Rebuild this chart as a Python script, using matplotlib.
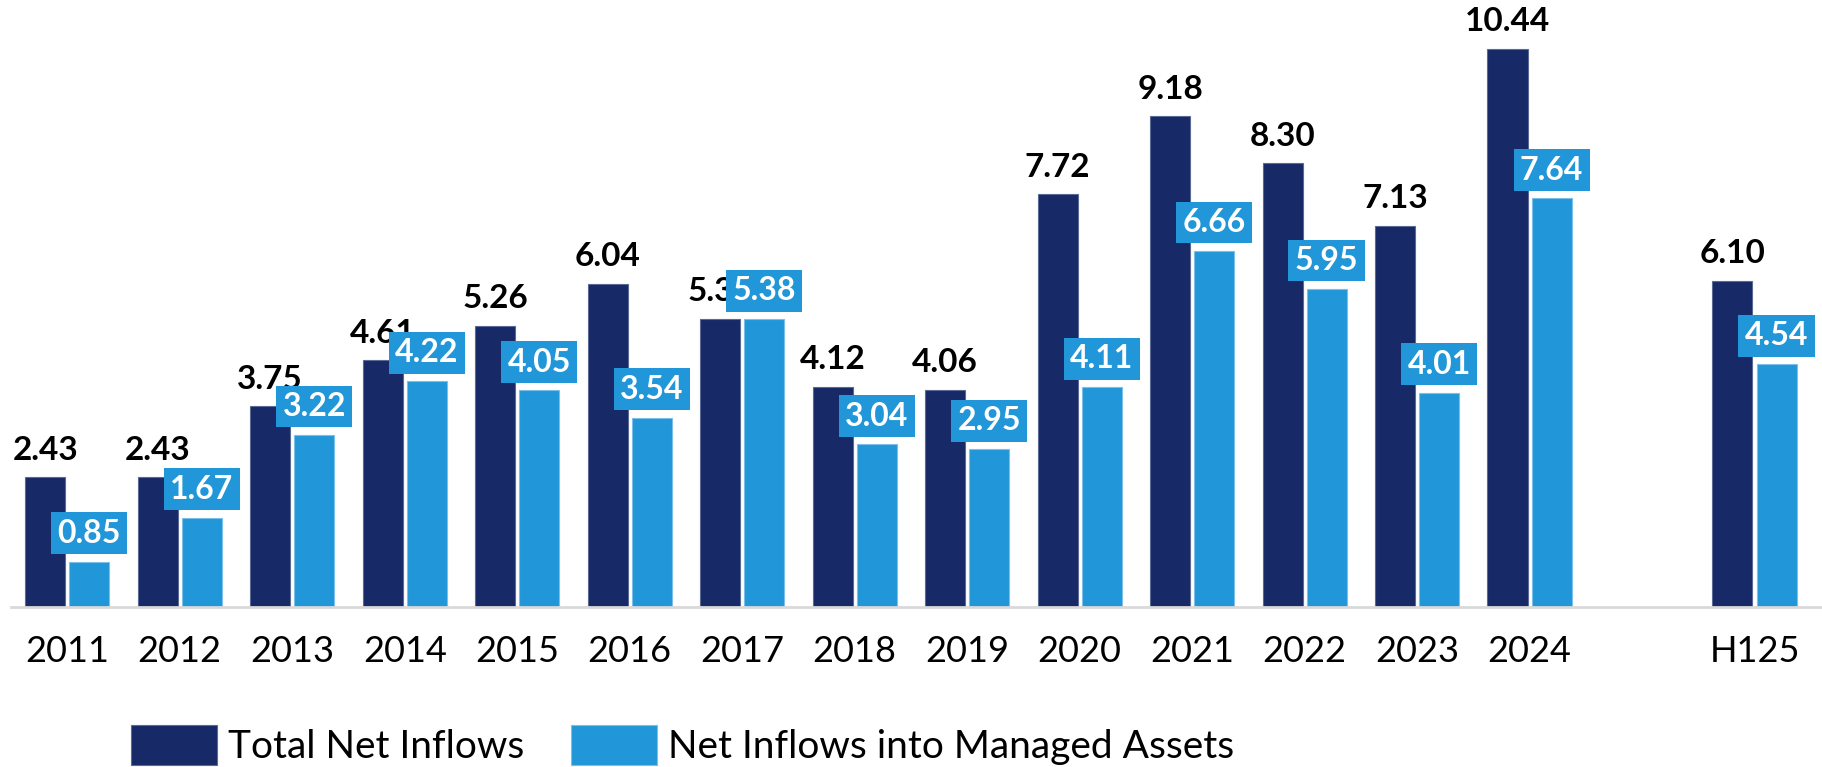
import matplotlib.pyplot as plt
import numpy as np

years = ['2011', '2012', '2013', '2014', '2015', '2016', '2017', '2018',
         '2019', '2020', '2021', '2022', '2023', '2024', 'H125']
total_net = [2.43, 2.43, 3.75, 4.61, 5.26, 6.04, 5.39, 4.12, 4.06, 7.72,
             9.18, 8.30, 7.13, 10.44, 6.10]
managed_net = [0.85, 1.67, 3.22, 4.22, 4.05, 3.54, 5.38, 3.04, 2.95, 4.11,
               6.66, 5.95, 4.01, 7.64, 4.54]

dark = '#172966'
light = '#2196d8'

plt.rcParams['font.family'] = ['Lato', 'DejaVu Sans']

fig = plt.figure(figsize=(18.22, 7.67), dpi=100)
ax = fig.add_axes([11 / 1822, 160 / 767, 1 - 11 / 1822, 599 / 767])

# gap before the half-year column
x = np.array(list(range(len(years) - 1)) + [len(years)], dtype=float)
w = 0.356
off = 0.196

b1 = ax.bar(x - off, total_net, w, color=dark, edgecolor='#5a6a95', linewidth=0.8,
            label='Total Net Inflows', zorder=2)
b2 = ax.bar(x + off, managed_net, w, color=light, edgecolor='#7cc0ea', linewidth=0.8,
            label='Net Inflows into Managed Assets', zorder=2)

for xi, v in zip(x, total_net):
    ax.annotate(f'{v:.2f}', (xi - off, v), xytext=(0, 9), textcoords='offset points',
                ha='center', va='bottom', fontsize=24, fontweight='bold',
                color='black', zorder=3)

for xi, v in zip(x, managed_net):
    ax.annotate(f'{v:.2f}', (xi + off, v), xytext=(0, 10), textcoords='offset points',
                ha='center', va='bottom', fontsize=23, fontweight='bold',
                color='white', zorder=4,
                bbox=dict(boxstyle='square,pad=0.2', fc=light, ec='none'))

ax.set_xlim(-0.5, 15.6)
ax.set_ylim(0, 11.2)
ax.set_xticks(x)
ax.set_xticklabels(years, fontsize=26)
ax.tick_params(axis='x', length=0, pad=20)
ax.set_yticks([])
for s in ['top', 'right', 'left']:
    ax.spines[s].set_visible(False)
ax.spines['bottom'].set_color('#d9d9d9')
ax.spines['bottom'].set_linewidth(2)

fig.legend(handles=[b1, b2], loc='upper left', bbox_to_anchor=(131 / 1822, 42 / 767),
           ncol=2, frameon=False, fontsize=28, borderpad=0, borderaxespad=0,
           handlelength=2.2, handleheight=1.2, handletextpad=0.3, columnspacing=1.2)

fig.savefig('out.png', dpi=100)
